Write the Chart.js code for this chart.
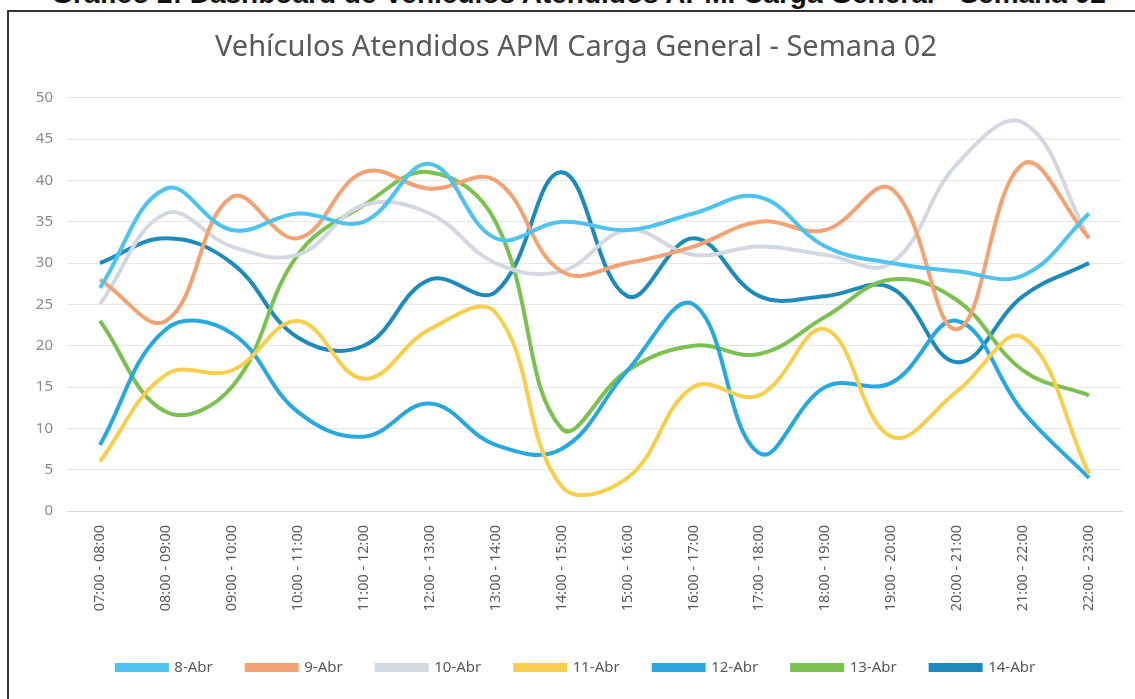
<!DOCTYPE html>
<html>
<head>
<meta charset="utf-8">
<script src="https://cdn.jsdelivr.net/npm/chart.js@4.4.1/dist/chart.umd.min.js"></script>
<style>
  html, body { margin: 0; padding: 0; background: #fff; }
  #wrap { position: relative; width: 1135px; height: 699px; overflow: hidden; background: #fff; }
  #header { position: absolute; left: 0; width: 1135px; top: -20px; line-height: 28px; text-align: center; font-family: "Liberation Sans", Arial, sans-serif; font-weight: bold; font-size: 28px; color: #111; white-space: nowrap; padding-left: 22px; box-sizing: border-box; }
  #frame { position: absolute; left: 7px; top: 10px; width: 1135px; height: 700px; border-top: 2px solid #333; border-left: 2px solid #333; box-sizing: border-box; background: transparent; }
  #c { position: absolute; left: 0; top: 0; }
</style>
</head>
<body>
<div id="wrap">
  <div id="header">Gráfico 2: Dashboard de Vehículos Atendidos APM. Carga General - Semana 02</div>
  <div id="frame"></div>
  <canvas id="c" width="1135" height="699"></canvas>
</div>
<script>
const chartTitle = 'Vehículos Atendidos APM Carga General - Semana 02';
const hours = ['07:00 - 08:00','08:00 - 09:00','09:00 - 10:00','10:00 - 11:00','11:00 - 12:00','12:00 - 13:00','13:00 - 14:00','14:00 - 15:00','15:00 - 16:00','16:00 - 17:00','17:00 - 18:00','18:00 - 19:00','19:00 - 20:00','20:00 - 21:00','21:00 - 22:00','22:00 - 23:00'];
const seriesNames = ['8-Abr','9-Abr','10-Abr','11-Abr','12-Abr','13-Abr','14-Abr'];
const abr08 = [27, 39, 34, 36, 35, 42, 33, 35, 34, 36, 38, 32, 30, 29, 28.5, 36];
const abr09 = [28, 23, 38, 33, 41, 39, 40, 29, 30, 32, 35, 34, 39, 22, 42, 33];
const abr10 = [25, 36, 32, 31, 37, 36, 30, 29, 34, 31, 32, 31, 30, 42, 47, 33];
const abr11 = [6, 16.5, 17, 23, 16, 22, 24, 3, 4, 15, 14, 22, 9, 14.5, 21, 4.5];
const abr12 = [8, 22, 21.5, 12, 9, 13, 8, 7.5, 17, 25, 7, 15, 15.5, 23, 12, 4];
const abr13 = [23, 12, 15, 31, 37, 41, 35, 10, 17, 20, 19, 23.5, 28, 25.5, 17, 14];
const abr14 = [30, 33, 30, 21, 20, 28, 26.5, 41, 26, 33, 26, 26, 27, 18, 26, 30];
const yTicks = [0, 5, 10, 15, 20, 25, 30, 35, 40, 45, 50];
const colors = ['#4ec3f0', '#f2a273', '#d3d8e0', '#f7cf4c', '#27a8e0', '#7bc14f', '#1c8abb'];

const allSeries = [abr08, abr09, abr10, abr11, abr12, abr13, abr14];
const FONT = '"Noto Sans", "Open Sans", sans-serif';

new Chart(document.getElementById('c'), {
  type: 'line',
  data: {
    labels: hours,
    datasets: allSeries.map((d, i) => ({
      label: seriesNames[i],
      data: d,
      borderColor: colors[i],
      backgroundColor: colors[i],
      borderWidth: 4,
      pointRadius: 0,
      tension: 0.4,
      fill: false
    }))
  },
  options: {
    responsive: false,
    animation: false,
    layout: { padding: { left: 30, right: 13, top: 12, bottom: 14 } },
    plugins: {
      title: {
        display: true,
        text: chartTitle,
        color: '#595959',
        font: { family: FONT, size: 29, weight: 'normal' },
        padding: { top: 18, bottom: 33 }
      },
      legend: {
        position: 'bottom',
        labels: {
          boxWidth: 50,
          boxHeight: 5,
          color: '#595959',
          font: { family: FONT, size: 15 },
          padding: 34
        }
      },
      tooltip: { enabled: false }
    },
    scales: {
      y: {
        min: 0, max: 50,
        afterBuildTicks: (s) => { s.ticks = yTicks.map(v => ({ value: v })); },
        afterFit: (s) => { s.width = 37; },
        ticks: { color: '#8a8a8a', font: { family: FONT, size: 15 }, padding: 14 },
        grid: { color: '#e6e6e6', drawTicks: false },
        border: { display: false }
      },
      x: {
        offset: true,
        afterFit: (s) => { s.height = 115; },
        ticks: { color: '#595959', font: { family: FONT, size: 14.5 }, minRotation: 90, maxRotation: 90, autoSkip: false, padding: 14 },
        grid: { display: false, drawTicks: false },
        border: { color: '#d9d9d9', width: 1 }
      }
    }
  }
});
</script>
</body>
</html>
